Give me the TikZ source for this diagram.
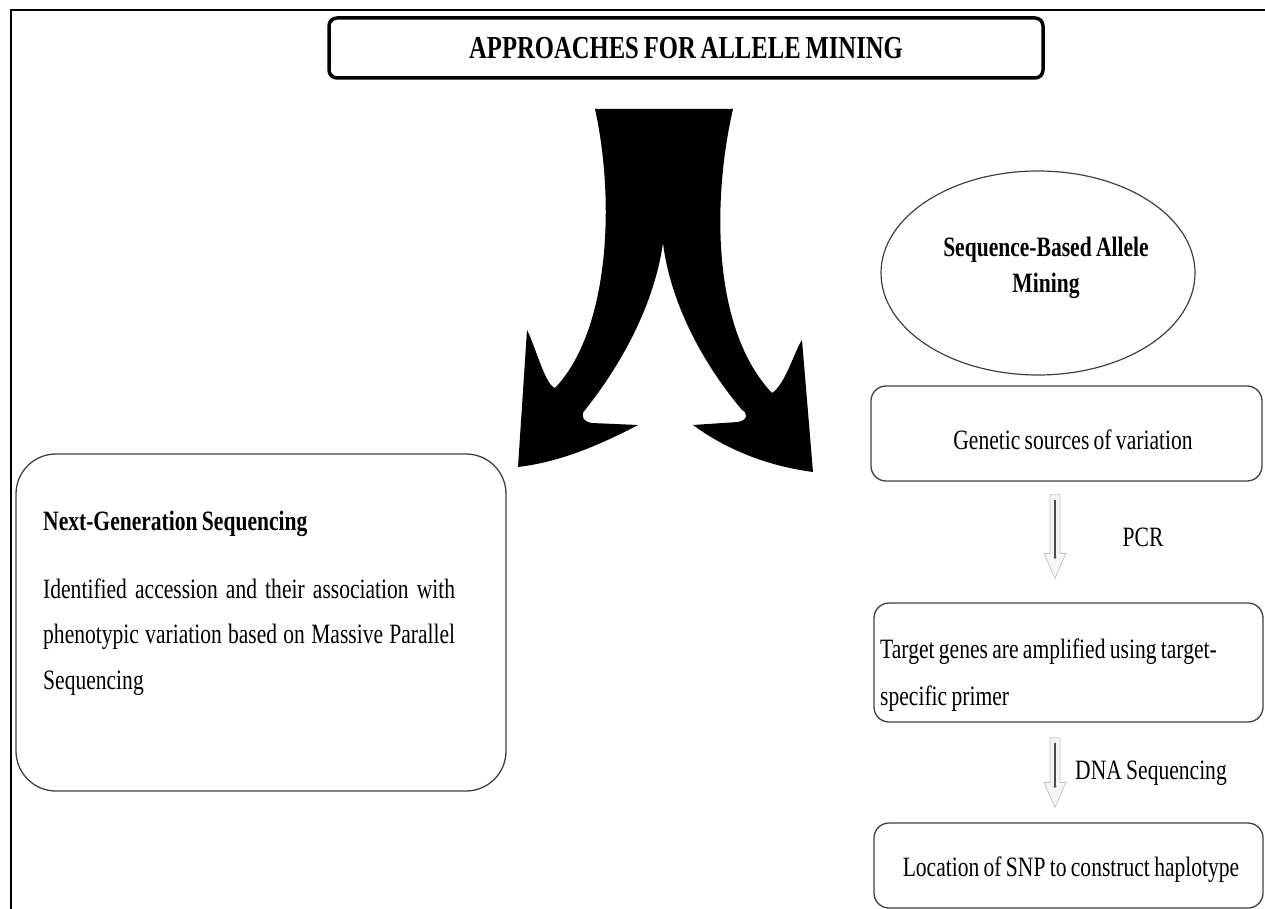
\documentclass[tikz,border=0pt]{standalone}
\usepackage{fontspec}
\setmainfont[FakeStretch=0.77, WordSpace=0.8]{Liberation Serif}
\usetikzlibrary{shapes.geometric}

% gray block arrow with a dark core line, from #1 down to #2
\newcommand{\flowarrow}[2]{%
  \filldraw[fill=gray!8, draw=gray!45, line width=0.8pt]
    ([xshift=-5pt]#1) -- ([xshift=5pt]#1) -- ([xshift=5pt,yshift=25pt]#2)
    -- ([xshift=11pt,yshift=25pt]#2) -- (#2) -- ([xshift=-11pt,yshift=25pt]#2)
    -- ([xshift=-5pt,yshift=25pt]#2) -- cycle;
  \draw[black!70, line width=1.6pt] ([yshift=-5pt]#1) -- ([yshift=21pt]#2);
  \fill[black!70] ([yshift=21pt]#2) circle (1.6pt);}
% font's own word spaces inside text-width nodes
\newcommand{\fontspaces}{\spaceskip=0pt \xspaceskip=0pt\relax}

\begin{document}
\begin{tikzpicture}[x=1pt, y=-1pt,
  tbox/.style={draw, line width=3.5pt, rounded corners=8pt, minimum width=714pt,
    minimum height=60pt, font=\fontsize{32}{36}\selectfont\bfseries},
  rbox/.style={draw=black!75, line width=1.3pt, rounded corners=15pt, inner sep=0pt},
  oval/.style={ellipse, draw=black!75, line width=1.2pt, minimum width=314pt,
    minimum height=204pt},
  txt/.style={inner sep=0pt, font=\fontsize{28}{45.5}\selectfont},
  lab/.style={inner sep=0pt, font=\fontsize{28}{32}\selectfont}
]
\useasboundingbox (0,0) rectangle (1265,909);
% --- frame (top and left only) ---
\draw[line width=1.8pt] (11,909) -- (11,10) -- (1265,10);

% --- title ---
\node[tbox] (title) at (686,48) {APPROACHES FOR ALLELE MINING};

% --- forked arrow ---
\fill (595,109) -- (733,109)
  .. controls (712,200) and (712,330) .. (772,393)
  .. controls (785,385) and (795,350) .. (802,340)
  -- (813,472)
  .. controls (760,465) and (720,445) .. (693,425)
  -- (738,422) .. controls (748,420) and (748,413) .. (742,410)
  .. controls (700,360) and (670,300) .. (663,243)
  .. controls (655,300) and (625,360) .. (585,410)
  .. controls (580,415) and (583,422) .. (592,423)
  -- (638,425)
  .. controls (600,445) and (560,462) .. (518,467)
  -- (527,330)
  .. controls (535,345) and (545,385) .. (555,388)
  .. controls (610,330) and (615,200) .. cycle;

% --- left branch ---
\node[rbox, rounded corners=40pt, minimum width=490pt, minimum height=337pt] (ngs) at (261,622.5) {};
\node[txt, anchor=base west, font=\fontsize{28}{32}\selectfont\bfseries] (ngshead) at (43,530) {Next-Generation Sequencing};
\node[txt, anchor=base west, text width=412pt] (ngstext) at (43,598)
  {\fontspaces
   \makebox[\linewidth][s]{Identified accession and their association with}\\
   \makebox[\linewidth][s]{phenotypic variation based on Massive Parallel}\\
   Sequencing};

% --- right branch ---
\node[oval] (seq) at (1038,273) {};
\node[txt, align=center, font=\fontsize{28}{36}\selectfont\bfseries] (seqtext) at (1046,268) {Sequence-Based Allele\\Mining};
\node[rbox, minimum width=391pt, minimum height=95pt] (gen) at (1066.5,433.5) {};
\node[txt] (gentext) at (1073,440) {Genetic sources of variation};
\node[rbox, minimum width=389pt, minimum height=119pt] (target) at (1068.5,662.5) {};
\node[txt, anchor=base west, text width=380pt, align=left, font=\fontsize{28}{47}\selectfont] (targettext) at (880,658)
  {\fontspaces Target genes are amplified using target-\\specific primer};
\node[rbox, minimum width=389pt, minimum height=85pt] (loc) at (1068.5,865.5) {};
\node[txt] (loctext) at (1071,870) {Location of SNP to construct haplotype};

% --- steps between the boxes ---
\coordinate (ax) at (1055,0);
\coordinate (pcrtop) at ([yshift=-13pt]gen.south -| ax);
\coordinate (pcrbot) at ([yshift=24pt]target.north -| ax);
\flowarrow{pcrtop}{pcrbot}
\node[lab] (pcr) at (1143,537) {PCR};
\coordinate (dnatop) at ([yshift=-15pt]target.south -| ax);
\coordinate (dnabot) at ([yshift=15pt]loc.north -| ax);
\flowarrow{dnatop}{dnabot}
\node[lab, anchor=west] (dna) at (1075,773) {DNA Sequencing};
\end{tikzpicture}
\end{document}
